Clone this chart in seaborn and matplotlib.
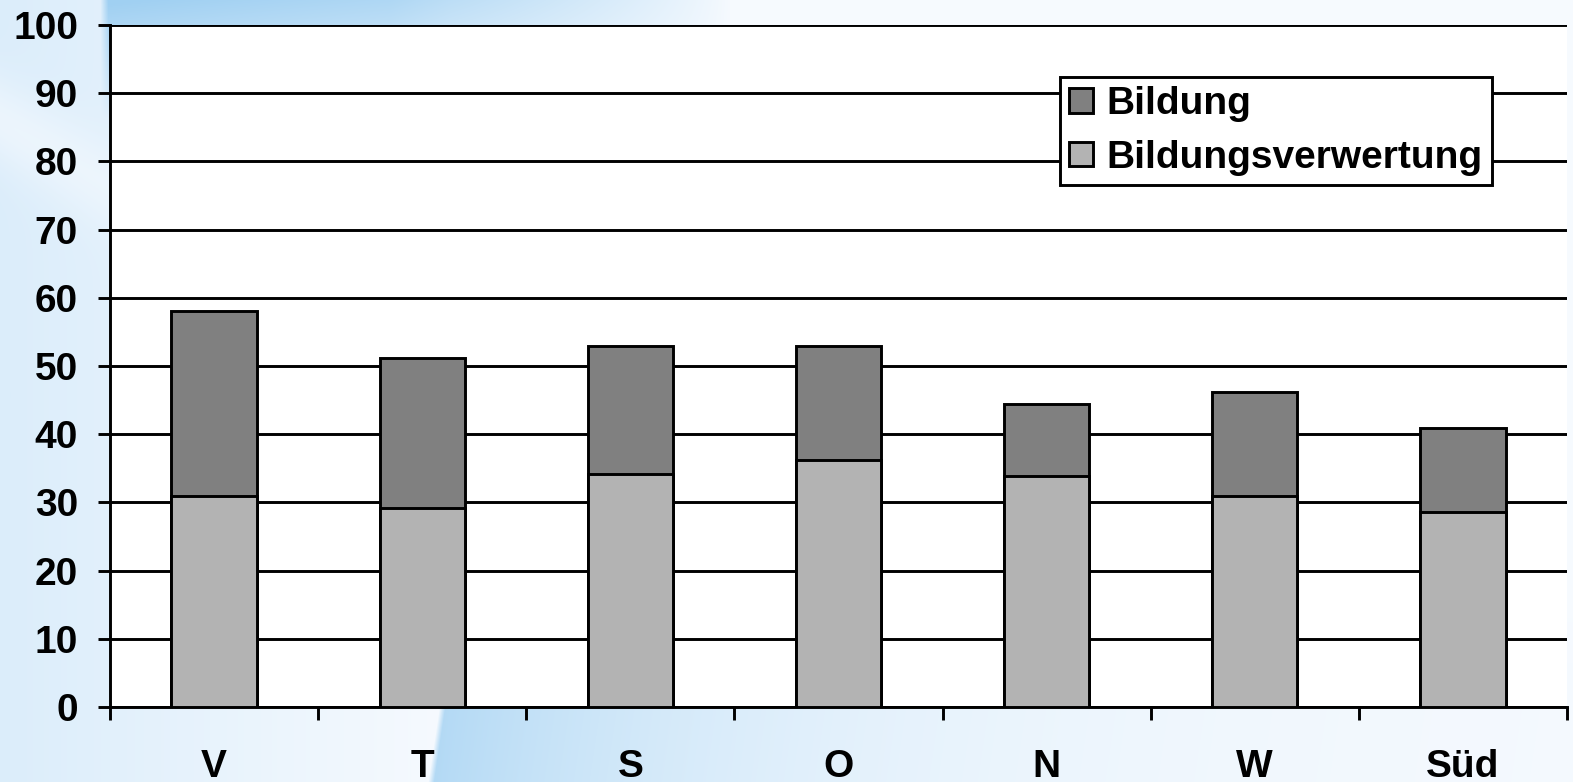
import numpy as np
import pandas as pd
import matplotlib
matplotlib.use("Agg")
import matplotlib.pyplot as plt
import seaborn as sns
from matplotlib.patches import Patch

regions = ["V", "T", "S", "O", "N", "W", "Süd"]
bildungsverwertung = [31.0, 29.2, 34.2, 36.2, 33.9, 30.9, 28.6]
bildung = [27.0, 22.0, 18.7, 16.7, 10.5, 15.3, 12.3]
y_ticks = [0, 10, 20, 30, 40, 50, 60, 70, 80, 90, 100]

df = pd.DataFrame({
    "Region": regions,
    "Bildungsverwertung": bildungsverwertung,
    "Bildung": bildung,
})
df["Gesamt"] = df["Bildungsverwertung"] + df["Bildung"]

sns.set_theme(style="white")
plt.rcParams["font.family"] = ["Liberation Sans", "DejaVu Sans"]
plt.rcParams["font.weight"] = "bold"
plt.rcParams["text.color"] = "black"
plt.rcParams["xtick.color"] = "black"
plt.rcParams["ytick.color"] = "black"
plt.rcParams["xtick.labelcolor"] = "black"
plt.rcParams["ytick.labelcolor"] = "black"

W, H = 1573, 782
fig = plt.figure(figsize=(W / 100, H / 100), dpi=100)

# soft blue backdrop behind the plot area
yy, xx = np.mgrid[0:H, 0:W].astype(float)
t = np.full((H, W), 0.04)
t += 0.30 * np.clip(1 - xx / 450, 0, 1)
band = np.exp(-((yy - 120 - 0.6 * xx) / 45) ** 2)
t -= 0.18 * band * np.clip(1 - xx / 300, 0, 1)
top = np.clip((xx - 100) / 8, 0, 1) * np.clip((730 - xx) / 340, 0, 1) ** 0.8
t += 0.75 * top * np.clip(1 - yy / 120, 0, 1)
edge = 440 - 0.15 * (yy - 700)
arc = np.clip((xx - edge) / 6, 0, 1) * np.exp(-np.clip(xx - edge, 0, None) / 330)
t += 0.75 * arc * np.clip((yy - 600) / 100, 0, 1)
t = np.clip(t, 0, 1)
light = np.array([250, 252, 255]) / 255
blue = np.array([160, 208, 242]) / 255
bg = light[None, None, :] * (1 - t[..., None]) + blue[None, None, :] * t[..., None]
bg_ax = fig.add_axes([0, 0, 1, 1], zorder=0)
bg_ax.imshow(bg, aspect="auto", extent=[0, W, H, 0])
bg_ax.set_axis_off()

left, right, top_px, bottom_px = 110, 1567, 25, 707
ax = fig.add_axes([left / W, 1 - bottom_px / H, (right - left) / W, (bottom_px - top_px) / H], zorder=1)
ax.set_facecolor("white")

lw = 2.1
bar_w = 0.41
sns.barplot(data=df, x="Region", y="Gesamt", color="#808080", width=bar_w,
            edgecolor="black", linewidth=lw, saturation=1, ax=ax, zorder=3)
sns.barplot(data=df, x="Region", y="Bildungsverwertung", color="#b3b3b3", width=bar_w,
            edgecolor="black", linewidth=lw, saturation=1, ax=ax, zorder=3)

ax.set_ylim(0, 100)
ax.set_xlim(-0.5, len(regions) - 0.5)
ax.set_yticks(y_ticks)
ax.set_yticklabels([str(v) for v in y_ticks])
ax.yaxis.grid(True, color="black", linewidth=lw)
ax.set_axisbelow(True)
ax.set_xlabel("")
ax.set_ylabel("")

for s in ["top", "right"]:
    ax.spines[s].set_visible(False)
for s in ["left", "bottom"]:
    ax.spines[s].set_color("black")
    ax.spines[s].set_linewidth(lw)

ax.tick_params(axis="y", direction="out", length=9, width=lw, color="black",
               labelsize=28, pad=14, left=True, labelcolor="black")
ax.tick_params(axis="x", which="major", length=0, labelsize=28, pad=30, labelcolor="black")
ax.set_xticks(np.arange(-0.5, len(regions) + 0.5, 1), minor=True)
ax.tick_params(axis="x", which="minor", direction="out", length=9, width=lw,
               color="black", bottom=True)
for lab in ax.get_xticklabels() + ax.get_yticklabels():
    lab.set_fontweight("bold")
    lab.set_color("black")

handles = [Patch(facecolor="#808080", edgecolor="black", linewidth=lw, label="Bildung"),
           Patch(facecolor="#b3b3b3", edgecolor="black", linewidth=lw, label="Bildungsverwertung")]
leg = ax.legend(handles=handles, loc="upper left",
                bbox_to_anchor=(1060 / W, 1 - 77 / H), bbox_transform=fig.transFigure,
                borderaxespad=0, frameon=True, fancybox=False, framealpha=1,
                edgecolor="black", prop={"size": 28, "weight": "bold"},
                handlelength=0.6, handleheight=0.6, handletextpad=0.35,
                borderpad=0.24, labelspacing=0.45)
leg.get_frame().set_linewidth(lw)
for txt in leg.get_texts():
    txt.set_color("black")
leg.set_zorder(5)

fig.savefig("out.png", dpi=100)
